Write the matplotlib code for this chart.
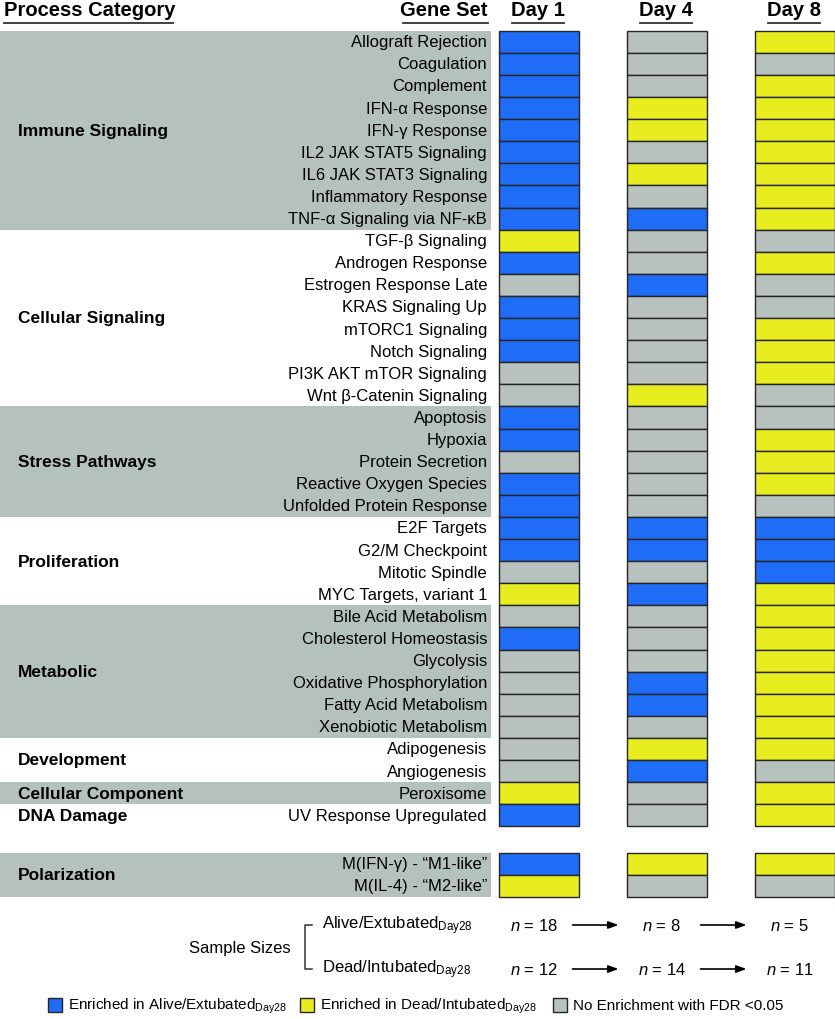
import matplotlib
matplotlib.use("Agg")
import matplotlib.pyplot as plt

plt.rcParams['font.family'] = ['Liberation Sans', 'DejaVu Sans']
plt.rcParams['mathtext.fontset'] = 'custom'
plt.rcParams['mathtext.rm'] = 'Liberation Sans'
plt.rcParams['mathtext.it'] = 'Liberation Sans:italic'

# ---------------- data ----------------
categories = ["Immune Signaling", "Cellular Signaling", "Stress Pathways", "Proliferation",
              "Metabolic", "Development", "Cellular Component", "DNA Damage"]
category_sizes = [9, 8, 5, 4, 6, 2, 1, 1]
category_shaded = [True, False, True, False, True, False, True, False]

gene_sets = [
    "Allograft Rejection", "Coagulation", "Complement", "IFN-α Response", "IFN-γ Response",
    "IL2 JAK STAT5 Signaling", "IL6 JAK STAT3 Signaling", "Inflammatory Response",
    "TNF-α Signaling via NF-κB",
    "TGF-β Signaling", "Androgen Response", "Estrogen Response Late", "KRAS Signaling Up",
    "mTORC1 Signaling", "Notch Signaling", "PI3K AKT mTOR Signaling", "Wnt β-Catenin Signaling",
    "Apoptosis", "Hypoxia", "Protein Secretion", "Reactive Oxygen Species",
    "Unfolded Protein Response",
    "E2F Targets", "G2/M Checkpoint", "Mitotic Spindle", "MYC Targets, variant 1",
    "Bile Acid Metabolism", "Cholesterol Homeostasis", "Glycolysis",
    "Oxidative Phosphorylation", "Fatty Acid Metabolism", "Xenobiotic Metabolism",
    "Adipogenesis", "Angiogenesis",
    "Peroxisome",
    "UV Response Upregulated",
]
days = ["Day 1", "Day 4", "Day 8"]
# A = enriched in Alive/Extubated, D = enriched in Dead/Intubated, N = no enrichment
day1 = ["A", "A", "A", "A", "A", "A", "A", "A", "A",
        "D", "A", "N", "A", "A", "A", "N", "N",
        "A", "A", "N", "A", "A",
        "A", "A", "N", "D",
        "N", "A", "N", "N", "N", "N",
        "N", "N",
        "D",
        "A"]
day4 = ["N", "N", "N", "D", "D", "N", "D", "N", "A",
        "N", "N", "A", "N", "N", "N", "N", "D",
        "N", "N", "N", "N", "N",
        "A", "A", "N", "A",
        "N", "N", "N", "A", "A", "N",
        "D", "A",
        "N",
        "N"]
day8 = ["D", "N", "D", "D", "D", "D", "D", "D", "D",
        "N", "D", "N", "N", "D", "D", "D", "N",
        "N", "D", "D", "D", "N",
        "A", "A", "A", "D",
        "D", "D", "D", "D", "D", "D",
        "D", "N",
        "D",
        "D"]

polar_category = "Polarization"
polar_sets = ["M(IFN-γ) - “M1-like”", "M(IL-4) - “M2-like”"]
polar_day1 = ["A", "D"]
polar_day4 = ["D", "N"]
polar_day8 = ["D", "N"]

sample_groups = ["Alive/Extubated", "Dead/Intubated"]
n_alive = [18, 8, 5]
n_dead = [12, 14, 11]

legend_labels = ["Enriched in Alive/Extubated$_{\\mathrm{Day28}}$",
                 "Enriched in Dead/Intubated$_{\\mathrm{Day28}}$",
                 "No Enrichment with FDR <0.05"]

# ---------------- style ----------------
colors = {"A": "#1f6cf6", "D": "#e8ed1f", "N": "#b7c1be"}
shade = "#b5c1bd"
edge = "#262626"

W, H = 835, 1020
fig = plt.figure(figsize=(W / 100, H / 100), dpi=100)
ax = fig.add_axes([0, 0, 1, 1])
ax.set_xlim(0, W)
ax.set_ylim(H, 0)
ax.axis("off")

top = 31.7
rowh = 22.1
col_left = [499, 627, 755]
cell_w = 79.5
label_right = 487
shade_right = 491


def row_center(i):
    return top + (i + 0.5) * rowh


# headers
hdr_y = 11
hdr = dict(fontsize=14.5, fontweight="bold", va="center")
ax.text(4, hdr_y, "Process Category", ha="left", **hdr)
ax.plot([4, 173], [23.5, 23.5], color="#333333", lw=1.3)
ax.text(label_right, hdr_y, "Gene Set", ha="right", **hdr)
ax.plot([403, label_right + 1], [23.5, 23.5], color="#333333", lw=1.3)
for d, cl in zip(days, col_left):
    cx = cl + cell_w / 2
    ax.text(cx - 1, hdr_y, d, ha="center", **hdr)
    ax.plot([cx - 27, cx + 25], [23.5, 23.5], color="#333333", lw=1.3)

# category shading & labels
start = 0
for cat, n, sh in zip(categories, category_sizes, category_shaded):
    y0 = top + start * rowh
    if sh:
        ax.barh(y0 + n * rowh / 2, shade_right, height=n * rowh, left=0,
                color=shade, edgecolor="none", zorder=0)
    ax.text(18, y0 + n * rowh / 2, cat, ha="left", va="center",
            fontsize=12.5, fontweight="bold")
    start += n

# gene set labels
for i, g in enumerate(gene_sets):
    ax.text(label_right, row_center(i), g, ha="right", va="center", fontsize=12)

# cells
for vals, cl in zip([day1, day4, day8], col_left):
    ys = [row_center(i) for i in range(len(vals))]
    ax.barh(ys, cell_w, height=rowh, left=cl, color=[colors[v] for v in vals],
            edgecolor=edge, linewidth=1.0, zorder=2)

# polarization block
p_start = len(gene_sets) + 1.2
py0 = top + p_start * rowh
ax.barh(py0 + rowh, shade_right, height=2 * rowh, left=0, color=shade,
        edgecolor="none", zorder=0)
ax.text(18, py0 + rowh, polar_category, ha="left", va="center",
        fontsize=12.5, fontweight="bold")
for j, p in enumerate(polar_sets):
    ax.text(label_right, py0 + (j + 0.5) * rowh, p, ha="right", va="center", fontsize=12)
for vals, cl in zip([polar_day1, polar_day4, polar_day8], col_left):
    ys = [py0 + (j + 0.5) * rowh for j in range(len(vals))]
    ax.barh(ys, cell_w, height=rowh, left=cl, color=[colors[v] for v in vals],
            edgecolor=edge, linewidth=1.0, zorder=2)

# sample sizes
y_alive, y_dead = 926, 970
ax.text(240, (y_alive + y_dead) / 2 + 1, "Sample Sizes", ha="center", va="center", fontsize=12)
ax.plot([312, 305, 305, 312], [y_alive, y_alive, y_dead, y_dead], color="#333333", lw=1.1)
ax.text(322, y_alive, sample_groups[0] + "$_{\\mathrm{Day28}}$", ha="left", va="center", fontsize=12)
ax.text(322, y_dead, sample_groups[1] + "$_{\\mathrm{Day28}}$", ha="left", va="center", fontsize=12)
for ns, yy in zip([n_alive, n_dead], [y_alive, y_dead]):
    for k, (nv, cl) in enumerate(zip(ns, col_left)):
        cx = cl + cell_w / 2 - 5
        ax.text(cx, yy, "$n$ = %d" % nv, ha="center", va="center", fontsize=12)
        if k < len(ns) - 1:
            ax.annotate("", xy=(cl + cell_w + 40, yy), xytext=(cl + cell_w - 6, yy),
                        arrowprops=dict(arrowstyle="-|>,head_length=0.6,head_width=0.22",
                                        color="black", lw=1.2, shrinkA=0, shrinkB=0))

# legend
leg_y = 1006
leg_x = [48, 300, 553]
for lab, key, lx in zip(legend_labels, ["A", "D", "N"], leg_x):
    ax.barh(leg_y, 14, height=14, left=lx, color=colors[key], edgecolor=edge, linewidth=1.0)
    ax.text(lx + 20, leg_y, lab, ha="left", va="center", fontsize=11)

fig.savefig("out.png", dpi=100)
